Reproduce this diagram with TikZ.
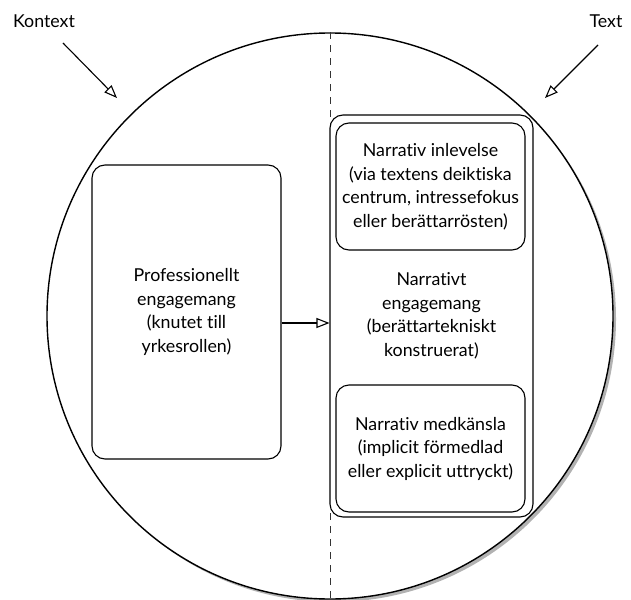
\documentclass[tikz,border=0pt]{standalone}
\usepackage{fontspec}
\setmainfont{Lato}[Ligatures={NoCommon,NoContextual}]
\usepackage{tikz}
\usetikzlibrary{arrows.meta,positioning,shadows}

\begin{document}
\begin{tikzpicture}[
  x=1pt, y=-1pt,
  font=\fontsize{17.8}{23.5}\selectfont,
  circ/.style={circle, draw=black, line width=1.4pt, fill=white,
               minimum size=566pt, inner sep=0pt,
               drop shadow={shadow xshift=3pt, shadow yshift=-3pt,
                            opacity=0.5, fill=black!60}},
  box/.style={rectangle, rounded corners=13pt, draw=black, line width=1.1pt,
              fill=white, align=center, inner sep=2pt},
  arr/.style={-{Triangle[open, length=13pt, width=10pt]}, line width=1.1pt},
  divider/.style={dash pattern=on 7pt off 6pt, line width=0.7pt, black!80}
]
\useasboundingbox (0,0) rectangle (631,599);

\node[circ] (world) at (330,316) {};

% dividing line between context half and text half
\draw[divider] (world.north) -- (world.south);

\node[box, minimum width=189pt, minimum height=294pt] (prof) at (186.5,312)
  {Professionellt\\engagemang\\(knutet till\\yrkesrollen)};

\node[box, minimum width=203pt, minimum height=402pt] (narr) at (431.5,316)
  {Narrativt\\engagemang\\(berättartekniskt\\konstruerat)};

\node[box, minimum width=189pt, minimum height=127pt] (inlev) at (430.5,186.5)
  {Narrativ inlevelse\\(via textens deiktiska\\centrum, intressefokus\\eller berättarrösten)};
\node[box, minimum width=189pt, minimum height=127pt] (medk) at (430.5,448.5)
  {Narrativ medkänsla\\(implicit förmedlad\\eller explicit uttryckt)};

\draw[arr] ([yshift=-11pt]prof.east) -- ([yshift=-11pt]prof.east -| narr.west);

\node (ctx) at (44,21) {Kontext};
\node (txt) at (606,21) {Text};
\coordinate (ctxs) at (63,43);
\coordinate (ctxe) at (117,98);
\coordinate (txts) at (598,45);
\coordinate (txte) at (545,98);
\draw[arr] (ctxs) -- (ctxe);
\draw[arr] (txts) -- (txte);

\end{tikzpicture}
\end{document}
